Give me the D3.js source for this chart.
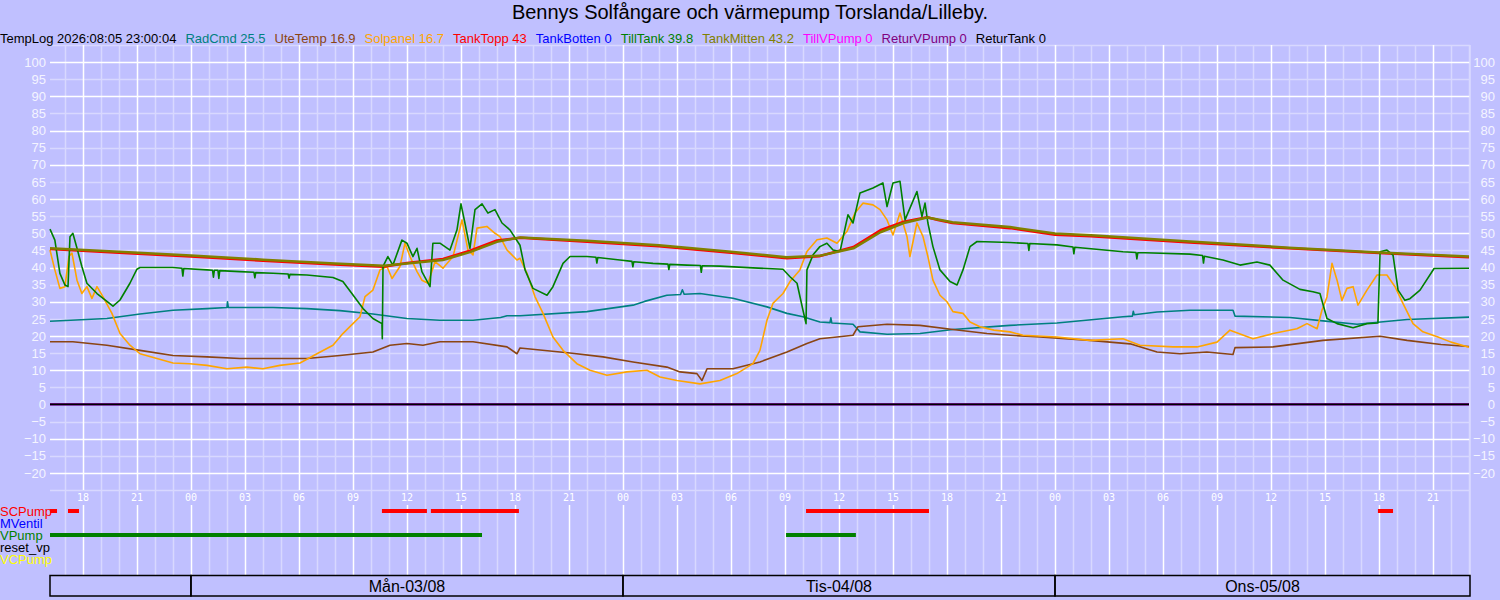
<!DOCTYPE html>
<html>
<head>
<meta charset="utf-8">
<script src="https://cdn.jsdelivr.net/npm/d3@7"></script>
<style>
  body { margin: 0; background: #c0c0ff; }
  text { font-family: "Liberation Sans", Arial, sans-serif; }
</style>
</head>
<body>
<script>
// hours counted from 2026-08-03 00:00
var startHour = -7.83;
var endHour = 71;
var logStamp = "TempLog 2026:08:05 23:00:04";
var title = "Bennys Solfångare och värmepump Torslanda/Lilleby.";

var radCmd = [[-7.83,24.3],[-4.67,25.1],[-2.83,26.4],[-1,27.5],[0.89,28],[2,28.3],[2.03,30],[2.08,28.3],[4.56,28.3],[6.44,28],[8.28,27.4],[10.11,26.4],[12,25.1],[13.83,24.6],[15.67,24.6],[17.2,25.4],[17.56,25.9],[18.28,25.9],[22,27.1],[24.56,29],[25.2,30.1],[26.44,31.9],[27.2,32.1],[27.3,33.5],[27.4,32.2],[28.28,32.4],[30.11,31],[32,28.5],[33.11,26.6],[34,25.6],[34.94,24.1],[35.5,23.9],[35.55,25.3],[35.6,23.8],[36.78,23.4],[37.17,21.2],[38.67,20.5],[40.5,20.7],[42.33,21.9],[45.5,23.1],[48.11,23.8],[51.78,25.6],[52.3,25.8],[52.35,27.2],[52.4,26.2],[53.67,27],[55.5,27.5],[57.89,27.5],[58,25.8],[61.06,25.4],[62.89,24.4],[64.78,23.4],[67.56,24.8],[71,25.5]];

var uteTemp = [[-7.83,18.3],[-6.56,18.3],[-4.67,17.3],[-2.83,15.8],[-1,14.3],[0.89,13.9],[2.72,13.4],[4.56,13.4],[6.44,13.4],[8.28,14.3],[10.11,15.3],[11.06,17.3],[12,17.8],[12.89,17.3],[13.83,18.3],[15.67,18.3],[17.56,16.8],[18.11,14.8],[18.28,16.5],[21.06,15],[22.89,13.9],[24.56,12.4],[26.44,10.9],[27.17,9.5],[28.11,9],[28.39,7],[28.67,10.4],[30.11,10.4],[31.61,12.4],[33.11,15.3],[34.22,17.8],[34.94,19.2],[35.89,19.7],[36.78,20.2],[37.06,22.7],[38.67,23.4],[40.5,23.1],[42.33,21.9],[44.22,20.7],[45.5,20.2],[47.17,19.7],[49.94,18.7],[52.17,17.7],[53.67,15.3],[54.94,14.8],[56.44,15.3],[57.89,14.6],[58,16.6],[60.11,16.8],[62.89,18.7],[66.06,19.9],[67.56,18.7],[69.44,17.5],[71,16.9]];

var solpanel = [[-7.83,45.1],[-7.56,39.3],[-7.28,33.9],[-7,34.4],[-6.78,43.2],[-6.61,44.2],[-6.33,36.3],[-6.06,32.4],[-5.78,34.4],[-5.5,31],[-5.22,34.4],[-4.89,31.5],[-4.39,26.6],[-3.94,20.7],[-3.39,17.3],[-2.83,14.8],[-1.89,13.4],[-1,12.1],[-0.06,11.9],[0.89,11.4],[2,10.4],[3.11,10.9],[4,10.4],[4.94,11.4],[6.06,12.1],[7,14.8],[7.89,17.3],[8.44,20.7],[9,23.6],[9.39,25.6],[9.67,31.5],[10.11,33.4],[10.5,39.3],[10.89,40.3],[11.17,36.8],[11.61,40.3],[11.89,47.1],[12.17,43.2],[12.56,38.8],[12.83,36.3],[13.17,35.4],[13.56,41.7],[14,39.8],[14.56,43.2],[15.06,53.9],[15.39,45.1],[15.67,43.7],[15.89,51.5],[16.44,52],[16.89,50],[17.17,49],[17.56,45.1],[18.11,42.2],[18.28,42.7],[18.67,38.3],[19.11,31.5],[19.56,26.6],[20.11,19.7],[20.67,15.8],[21.44,11.9],[22.17,10],[23.11,8.5],[24.22,9.5],[25.33,10],[26.06,8],[27,7],[28.28,6],[29.39,7],[30.33,9],[31.22,11.9],[31.61,15.8],[32,24.6],[32.33,29.5],[32.89,32.4],[33.28,35.9],[33.83,39.3],[34.22,44.7],[34.78,48.1],[35.33,48.6],[35.89,47.1],[36.44,50.5],[36.89,55.9],[37.33,58.8],[37.89,58.3],[38.28,56.9],[38.67,53.9],[39,49.5],[39.39,55.9],[39.78,49],[39.94,43.2],[40.33,53],[40.67,49],[40.94,43.2],[41.22,36.3],[41.61,31.9],[42,30],[42.33,27.1],[42.89,26.6],[43.28,24.1],[43.83,22.7],[44.61,21.7],[45.5,21.2],[46.22,20.2],[48.11,19.7],[49.94,18.7],[51.78,19.2],[52.72,17.3],[54.56,16.8],[55.89,16.8],[57,18.2],[57.72,21.7],[59,19.2],[60.11,20.7],[61.44,22.1],[62,23.6],[62.56,22.1],[62.83,27.5],[63.11,31.4],[63.39,41.2],[63.67,36.3],[63.94,30.4],[64.22,33.9],[64.56,34.4],[64.83,29],[65.33,33.4],[65.89,37.8],[66.44,37.8],[66.89,34.4],[67.33,29.5],[67.89,23.6],[68.44,21.2],[69.28,19.7],[70,18.2],[71,16.7]];

var tankTopp = [[-7.83,45.4],[-4,44.3],[0,43.2],[4,42.0],[8,40.9],[10.7,40.2],[12,41.3],[14,42.5],[15.5,44.9],[17,47.9],[18.3,48.7],[22,47.5],[26,46.2],[30,44.3],[33.1,42.7],[34.9,43.3],[36.8,46.0],[38.3,50.9],[39.6,53.4],[40.9,54.7],[41.5,53.9],[42.3,53.0],[45.5,51.5],[48,49.6],[50,49.1],[55.5,47.3],[61,45.6],[66,44.2],[71,43]];

var tankBotten = [[-7.83,0],[71,0]];

var tillTank = [[-7.83,51.2],[-7.56,48],[-7.28,38.3],[-7,34.9],[-6.83,34.4],[-6.72,49],[-6.56,50],[-6.33,45.6],[-6.06,40.3],[-5.78,35.4],[-5.22,32.4],[-4.33,28.7],[-3.94,30.5],[-3.39,35.4],[-3,39.5],[-2.83,40],[-1,40],[-0.5,39.8],[-0.45,37.5],[-0.4,39.7],[0.89,39.3],[1.2,39.2],[1.25,37.2],[1.3,39.2],[1.5,39.2],[1.55,36.8],[1.6,39.1],[2.72,38.8],[3.5,38.6],[3.55,37],[3.6,38.5],[4.56,38.3],[5.4,38.1],[5.45,36.9],[5.5,38],[6.44,37.8],[7.89,37.1],[8.44,35.9],[8.94,32.4],[9.56,28],[10.11,25.1],[10.61,23.6],[10.63,19.2],[10.67,40.3],[10.94,43.2],[11.22,40.7],[11.72,48],[12,47.1],[12.33,43.2],[12.56,45.6],[12.83,38.8],[13.28,34.4],[13.44,47.1],[13.83,47.1],[14.39,45.1],[14.78,51],[15,58.6],[15.22,53],[15.5,45.6],[15.78,56.9],[16.17,58.6],[16.5,55.9],[16.89,56.9],[17.28,53],[17.72,51],[18.28,46.5],[18.56,39.3],[19,33.9],[19.78,31.9],[20.11,34.4],[20.67,41.2],[21.06,43.2],[22,43.2],[22.5,43],[22.55,41.3],[22.6,42.9],[23.83,42.2],[24.5,41.8],[24.55,40.2],[24.6,41.7],[25.67,41.2],[26.5,41],[26.55,39.4],[26.6,40.9],[27.56,40.7],[28.3,40.6],[28.35,38.6],[28.4,40.5],[29.39,40.4],[31.22,39.9],[32.89,39.5],[33.28,37.3],[33.67,35.4],[34,27.5],[34.17,23.6],[34.22,39.3],[34.56,43.7],[34.94,46.1],[35.33,47.1],[35.67,45.1],[36.06,44.7],[36.5,55.4],[36.78,53],[37.17,61.8],[37.89,63.2],[38.44,64.7],[38.67,57.8],[39,64.7],[39.39,65.2],[39.67,53.9],[40.06,58.8],[40.33,62.2],[40.61,54.9],[40.78,58.8],[40.94,53],[41.22,46.1],[41.61,39.3],[42.17,35.9],[42.56,34.9],[42.89,39.3],[43.28,46.1],[43.67,47.6],[45.5,47.3],[46.5,47],[46.55,45],[46.6,47],[48.11,46.6],[49,46],[49.05,44],[49.1,45.9],[50,45.5],[51.78,44.6],[52.5,44.4],[52.55,42.5],[52.6,44.3],[53,44.3],[55.5,43.9],[56.2,43.5],[56.25,41.3],[56.3,43.3],[57.33,42.2],[58.28,40.7],[59.22,41.6],[59.94,40.7],[60.67,36.3],[61.61,33.6],[62.33,32.9],[62.72,32.4],[63.11,25.1],[63.67,23.6],[64.56,22.4],[65.33,23.6],[65.94,23.8],[66.06,44.6],[66.44,45.1],[66.78,43.6],[67.06,33.4],[67.44,30.4],[67.72,30.9],[68.28,33.4],[69.06,39.7],[71,39.8]];

var tankMitten = [[-7.83,45.6],[-4,44.6],[0,43.5],[4,42.3],[8,41.2],[10.7,40.5],[12,41.2],[14,42.2],[15.5,44.5],[17,47.5],[18.3,48.8],[22,47.8],[26,46.5],[30,44.6],[33.1,43],[34.9,43.4],[36.8,45.6],[38.3,50.3],[39.6,53],[40.9,54.6],[41.5,54],[42.3,53.2],[45.5,51.8],[48,49.9],[50,49.4],[55.5,47.6],[61,45.8],[66,44.4],[71,43.2]];

var tillVPump = [[-7.83,0],[71,0]];
var returVPump = [[-7.83,0],[71,0]];
var returTank = [[-7.83,0],[71,0]];

var seriesNames = ["RadCmd","UteTemp","Solpanel","TankTopp","TankBotten","TillTank","TankMitten","TillVPump","ReturVPump","ReturTank"];
var seriesColors = ["#008080","#8b4513","#ffa500","#ff0000","#0000ff","#008000","#808000","#ff00ff","#800080","#000000"];
var seriesData = [radCmd, uteTemp, solpanel, tankTopp, tankBotten, tillTank, tankMitten, tillVPump, returVPump, returTank];

// on/off status rows
var statusNames = ["SCPump","MVentil","VPump","reset_vp","VCPump"];
var statusColors = ["#ff0000","#0000ff","#008000","#000000","#ffff00"];
var scPumpOn = [[-7.83,-7.44],[-6.83,-6.22],[10.61,13.11],[13.33,18.22],[34.17,41],[65.94,66.78]];
var mVentilOn = [];
var vPumpOn = [[-7.83,16.17],[33.06,36.94]];
var resetVpOn = [];
var vcPumpOn = [];
var statusData = [scPumpOn, mVentilOn, vPumpOn, resetVpOn, vcPumpOn];

var dayLabels = ["", "Mån-03/08", "Tis-04/08", "Ons-05/08"];
var yTicks = d3.range(-20, 101, 5);

var t0 = new Date(2026, 7, 3, 0, 0, 0);
function toTime(h) { return new Date(t0.getTime() + h * 3600000); }

var width = 1500, height = 600;
var svg = d3.select("body").append("svg")
    .attr("width", width)
    .attr("height", height);

svg.append("rect").attr("width", width).attr("height", height).attr("fill", "#c0c0ff");

var x = d3.scaleTime().domain([toTime(startHour), toTime(endHour)]).range([50, 1469]);
var y = d3.scaleLinear().domain([-25, 105]).range([490, 45]);

// ====== GRID ======
var grid = svg.append("g");
var hours = x.ticks(d3.timeHour.every(1));
grid.selectAll(".vminor")
    .data(hours.filter(function(d) { return d.getHours() % 3 != 0; }))
    .enter().append("line")
        .attr("x1", function(d) { return Math.round(x(d)) + 0.5; })
        .attr("x2", function(d) { return Math.round(x(d)) + 0.5; })
        .attr("y1", 45).attr("y2", 576)
        .style("stroke", "#d8d8ff").style("stroke-width", 1.5);

grid.selectAll(".hline")
    .data(d3.range(-25, 106, 5))
    .enter().append("line")
        .attr("x1", 50).attr("x2", 1470)
        .attr("y1", function(d) { return Math.round(y(d)) + 0.5; })
        .attr("y2", function(d) { return Math.round(y(d)) + 0.5; })
        .style("stroke", function(d) { return d % 10 == 0 ? "#ffffff" : "#d8d8ff"; })
        .style("stroke-width", 1.5);

var majors = hours.filter(function(d) { return d.getHours() % 3 == 0; });
[[45, 490], [505, 576]].forEach(function(seg) {
    grid.selectAll(null)
        .data(majors)
        .enter().append("line")
            .attr("x1", function(d) { return Math.round(x(d)) + 0.5; })
            .attr("x2", function(d) { return Math.round(x(d)) + 0.5; })
            .attr("y1", seg[0]).attr("y2", seg[1])
            .style("stroke", "#ffffff").style("stroke-width", 1.5);
});
grid.append("line").attr("x1", 1470).attr("x2", 1470).attr("y1", 45).attr("y2", 576)
    .style("stroke", "#d8d8ff").style("stroke-width", 1.5);

// hour labels
svg.selectAll(".hlabel")
    .data(majors)
    .enter().append("text")
        .attr("x", function(d) { return x(d); })
        .attr("y", 501)
        .attr("text-anchor", "middle")
        .style("font-family", "'DejaVu Sans Mono', monospace")
        .style("font-size", "10px")
        .style("fill", "#ffffff")
        .text(d3.timeFormat("%H"));

// ====== Y AXES ======
[46, 1495].forEach(function(ax) {
    var g = svg.append("g")
        .attr("transform", "translate(" + ax + ",0)")
        .call(d3.axisLeft(y).tickValues(yTicks).tickSize(0).tickPadding(0));
    g.select(".domain").remove();
    g.selectAll("text")
        .style("font-family", "'Liberation Sans', Arial, sans-serif")
        .style("font-size", "13px")
        .style("fill", "#f4f4ff");
});

// ====== LINES ======
var line = d3.line()
    .x(function(d) { return x(toTime(d[0])); })
    .y(function(d) { return y(d[1]); });

svg.selectAll(".series")
    .data(seriesData)
    .enter().append("path")
        .attr("class", "series")
        .attr("d", line)
        .style("fill", "none")
        .style("stroke", function(d, i) { return seriesColors[i]; })
        .style("stroke-width", function(d, i) { return (i == 3 || i == 6) ? 2.5 : 1.6; })
        .style("stroke-linejoin", "round");

// ====== TITLE + LEGEND ======
svg.append("text")
    .attr("x", 750).attr("y", 19)
    .attr("text-anchor", "middle")
    .style("font-size", "20px")
    .style("fill", "#000")
    .text(title);

var lx = 0;
var stamp = svg.append("text").attr("x", lx).attr("y", 43)
    .style("font-size", "13px").style("fill", "#000").text(logStamp);
lx += stamp.node().getComputedTextLength() + 9;
seriesNames.forEach(function(name, i) {
    var last = seriesData[i][seriesData[i].length - 1][1];
    var t = svg.append("text").attr("x", lx).attr("y", 43)
        .style("font-size", "13px")
        .style("fill", seriesColors[i])
        .text(name + " " + last);
    lx += t.node().getComputedTextLength() + 9;
});

// ====== STATUS ROWS ======
statusNames.forEach(function(name, i) {
    var cy = 511 + i * 12;
    svg.selectAll(null)
        .data(statusData[i])
        .enter().append("rect")
            .attr("x", function(d) { return x(toTime(d[0])); })
            .attr("width", function(d) { return x(toTime(d[1])) - x(toTime(d[0])); })
            .attr("y", cy - 2)
            .attr("height", 4)
            .style("fill", statusColors[i]);
    svg.append("text")
        .attr("x", 0).attr("y", cy + 5)
        .style("font-size", "13px")
        .style("fill", statusColors[i])
        .text(name);
});

// ====== DAY BOXES ======
var days = d3.timeDay.range(d3.timeDay.floor(toTime(startHour)), toTime(endHour));
days.forEach(function(d, i) {
    var x0 = Math.max(50, x(d));
    var x1 = Math.min(1470, x(d3.timeDay.offset(d, 1)));
    svg.append("rect")
        .attr("x", x0).attr("y", 575.5)
        .attr("width", x1 - x0).attr("height", 20.5)
        .style("fill", "none").style("stroke", "#000").style("stroke-width", 1.5);
    svg.append("text")
        .attr("x", (x0 + x1) / 2).attr("y", 592)
        .attr("text-anchor", "middle")
        .style("font-size", "16px")
        .style("fill", "#000")
        .text(dayLabels[i] || "");
});
</script>
</body>
</html>
